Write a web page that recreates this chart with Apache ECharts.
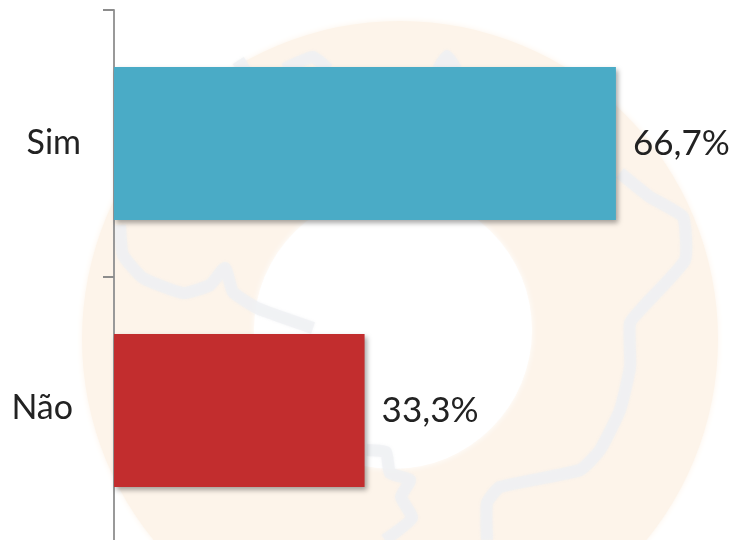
<!DOCTYPE html>
<html>
<head>
<meta charset="utf-8">
<style>html,body{margin:0;padding:0;background:#fff}#main{width:734px;height:540px}</style>
<script src="https://cdn.jsdelivr.net/npm/echarts@6/dist/echarts.min.js"></script>
</head>
<body>
<div id="main"></div>
<script>
var categories = ['Sim', 'Não'];
var values = [66.7, 33.3];
var barColors = ['#4AABC6', '#C22D2E'];

// faint map watermark behind the bars
var mapLines = [
  [[236, 69], [247, 62]],
  [[284, 69], [313, 57], [328, 69]],
  [[438, 69], [447, 56], [456, 69]],
  [[120, 225], [123, 255], [143, 278], [183, 293], [210, 285], [225, 268], [233, 292], [257, 308], [313, 328]],
  [[367, 450], [386, 452], [390, 473], [410, 480], [401, 497], [412, 518], [385, 540]],
  [[487, 540], [487, 503], [500, 487], [580, 470], [600, 450], [620, 410], [630, 367], [630, 323], [643, 307], [685, 260], [683, 217], [650, 197], [620, 173]]
];

var chart = echarts.init(document.getElementById('main'));

var graphic = [{
  type: 'circle',
  z: -3,
  silent: true,
  shape: { cx: 400, cy: 339, r: 318 },
  style: { fill: '#FDF4EA', shadowColor: '#FDF4EA', shadowBlur: 6 }
}, {
  type: 'circle',
  z: -2,
  silent: true,
  shape: { cx: 393, cy: 330, r: 139 },
  style: { fill: '#fff', shadowColor: '#fff', shadowBlur: 6 }
}];
mapLines.forEach(function (pts) {
  graphic.push({
    type: 'polyline',
    z: -1,
    silent: true,
    shape: { points: pts, smooth: 0.15 },
    style: {
      stroke: '#EEF0F2',
      lineWidth: 12,
      fill: null,
      lineJoin: 'round',
      opacity: 0.65,
      shadowColor: '#EEF0F2',
      shadowBlur: 3
    }
  });
});

var option = {
  animation: false,
  backgroundColor: '#fff',
  graphic: graphic,
  grid: { left: 114, top: 10, width: 602, height: 534, outerBoundsMode: 'none' },
  xAxis: {
    type: 'value',
    min: 0,
    max: 80,
    show: false
  },
  yAxis: {
    type: 'category',
    inverse: true,
    data: categories,
    axisLine: { show: true, onZero: false, lineStyle: { color: '#999', width: 2 } },
    axisTick: { show: true, length: 11, lineStyle: { color: '#8c8c8c', width: 2 } },
    axisLabel: {
      margin: 33,
      color: '#222',
      fontFamily: 'Lato',
      fontSize: 34,
      formatter: function (v) {
        return v === 'Não' ? '{n|' + v + '}' : v;
      },
      rich: {
        n: { color: '#222', fontFamily: 'Lato', fontSize: 34, padding: [0, 8, 4, 0] }
      }
    }
  },
  series: [{
    type: 'bar',
    barWidth: 153,
    data: values.map(function (v, i) {
      return {
        value: v,
        itemStyle: {
          color: barColors[i],
          shadowColor: 'rgba(0,0,0,0.35)',
          shadowBlur: 5,
          shadowOffsetX: 2,
          shadowOffsetY: 3
        }
      };
    }),
    label: {
      show: true,
      position: 'right',
      distance: 17,
      color: '#222',
      fontFamily: 'Lato',
      fontSize: 35,
      formatter: function (p) {
        return String(p.value).replace('.', ',') + '%';
      }
    }
  }]
};

chart.setOption(option);
</script>
</body>
</html>
